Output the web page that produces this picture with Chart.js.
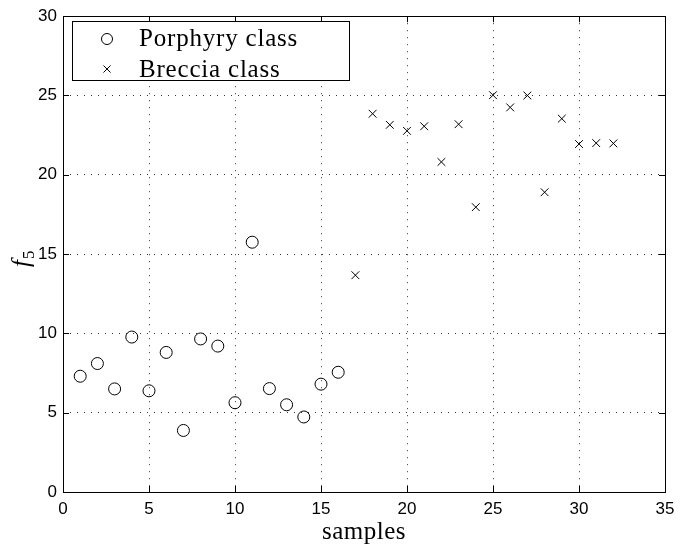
<!DOCTYPE html>
<html>
<head>
<meta charset="utf-8">
<script src="https://cdn.jsdelivr.net/npm/chart.js@4"></script>
<style>
  html, body { margin: 0; padding: 0; background: #fff; }
  #wrap { width: 682px; height: 547px; }
</style>
</head>
<body>
<div id="wrap"><canvas id="chart" width="682" height="547"></canvas></div>
<script>
// samples 1..16 belong to porphyry, 17..32 to breccia
const porphyrySamples = [1, 2, 3, 4, 5, 6, 7, 8, 9, 10, 11, 12, 13, 14, 15, 16];
const porphyryF5 = [7.3, 8.1, 6.5, 9.77, 6.38, 8.8, 3.88, 9.65, 9.2, 5.63, 15.75, 6.52, 5.5, 4.73, 6.8, 7.55];
const brecciaSamples = [17, 18, 19, 20, 21, 22, 23, 24, 25, 26, 27, 28, 29, 30, 31, 32];
const brecciaF5 = [13.67, 23.85, 23.15, 22.77, 23.06, 20.81, 23.19, 17.96, 25.02, 24.25, 25.0, 18.9, 23.54, 21.94, 22.0, 21.98];
const xTicks = [0, 5, 10, 15, 20, 25, 30, 35];
const yTicks = [0, 5, 10, 15, 20, 25, 30];

const seriesNames = ['Porphyry class', 'Breccia class'];

const serif = '"Liberation Serif", "DejaVu Serif", serif';

function toPoints(xs, ys) {
    return xs.map((x, i) => ({ x: x, y: ys[i] }));
}

// MATLAB-style box: inward ticks on all four sides, frame, axis titles and legend inside the plot
const matlabFrame = {
    id: 'matlabFrame',
    afterDraw(chart) {
        const ctx = chart.ctx;
        const area = chart.chartArea;
        const xs = chart.scales.x;
        const ys = chart.scales.y;
        ctx.save();
        ctx.strokeStyle = '#000';
        ctx.lineWidth = 1;

        // ticks
        ctx.beginPath();
        xTicks.forEach(v => {
            const px = Math.round(xs.getPixelForValue(v)) + 0.5;
            ctx.moveTo(px, area.bottom); ctx.lineTo(px, area.bottom - 6);
            ctx.moveTo(px, area.top); ctx.lineTo(px, area.top + 6);
        });
        yTicks.forEach(v => {
            const py = Math.round(ys.getPixelForValue(v)) + 0.5;
            ctx.moveTo(area.left, py); ctx.lineTo(area.left + 6, py);
            ctx.moveTo(area.right, py); ctx.lineTo(area.right - 6, py);
        });
        ctx.stroke();

        // frame
        ctx.strokeRect(Math.round(area.left) + 0.5, Math.round(area.top) + 0.5,
            Math.round(area.right - area.left), Math.round(area.bottom - area.top));

        // x title
        ctx.fillStyle = '#000';
        ctx.font = '25px ' + serif;
        ctx.letterSpacing = '0.5px';
        ctx.textAlign = 'center';
        ctx.textBaseline = 'alphabetic';
        ctx.fillText('samples', (area.left + area.right) / 2, 539);

        // y title f_5
        ctx.letterSpacing = '0px';
        ctx.translate(29, 258);
        ctx.rotate(-Math.PI / 2);
        ctx.font = 'italic 25px ' + serif;
        ctx.textAlign = 'left';
        const fw = ctx.measureText('f').width;
        ctx.fillText('f', -9, 0);
        ctx.font = '17px ' + serif;
        ctx.fillText('5', -9 + fw + 1, 5);
        ctx.setTransform(1, 0, 0, 1, 0, 0);

        // legend box
        const bx = 72.5, by = 21.5, bw = 277, bh = 59;
        ctx.fillStyle = '#fff';
        ctx.fillRect(bx, by, bw, bh);
        ctx.strokeRect(bx, by, bw, bh);
        ctx.beginPath();
        ctx.arc(107, 39, 5.5, 0, Math.PI * 2);
        ctx.stroke();
        ctx.beginPath();
        ctx.moveTo(103.5, 65.5); ctx.lineTo(110.5, 72.5);
        ctx.moveTo(110.5, 65.5); ctx.lineTo(103.5, 72.5);
        ctx.stroke();
        ctx.fillStyle = '#000';
        ctx.font = '25px ' + serif;
        ctx.letterSpacing = '0.8px';
        ctx.textAlign = 'left';
        ctx.textBaseline = 'alphabetic';
        ctx.fillText(seriesNames[0], 139, 46);
        ctx.fillText(seriesNames[1], 139, 77);
        ctx.restore();
    }
};

new Chart(document.getElementById('chart').getContext('2d'), {
    type: 'scatter',
    data: {
        datasets: [
            {
                label: seriesNames[0],
                data: toPoints(porphyrySamples, porphyryF5),
                pointStyle: 'circle',
                pointRadius: 6,
                pointHoverRadius: 6,
                borderColor: '#000',
                backgroundColor: 'rgba(0,0,0,0)',
                borderWidth: 1
            },
            {
                label: seriesNames[1],
                data: toPoints(brecciaSamples, brecciaF5),
                pointStyle: 'crossRot',
                pointRadius: 5.5,
                pointHoverRadius: 5.5,
                borderColor: '#000',
                backgroundColor: '#000',
                borderWidth: 1
            }
        ]
    },
    options: {
        responsive: false,
        animation: false,
        events: [],
        layout: { padding: { top: 12, right: 17, left: 0, bottom: 0 } },
        plugins: {
            legend: { display: false },
            tooltip: { enabled: false }
        },
        scales: {
            x: {
                type: 'linear',
                min: 0,
                max: 35,
                afterFit: s => { s.height = 55; },
                afterBuildTicks: s => { s.ticks = xTicks.map(v => ({ value: v })); },
                border: { display: false, dash: [1, 6] },
                grid: {
                    drawTicks: false,
                    color: c => (c.tick.value === 0 || c.tick.value === 35) ? 'rgba(0,0,0,0)' : '#333',
                    lineWidth: 1
                },
                ticks: {
                    padding: 7,
                    color: '#000',
                    font: { family: '"Liberation Sans", Arial, sans-serif', size: 17 },
                    maxRotation: 0
                }
            },
            y: {
                type: 'linear',
                min: 0,
                max: 30,
                afterFit: s => { s.width = 63; },
                afterBuildTicks: s => { s.ticks = yTicks.map(v => ({ value: v })); },
                border: { display: false, dash: [1, 6] },
                grid: {
                    drawTicks: false,
                    color: c => (c.tick.value === 0 || c.tick.value === 30) ? 'rgba(0,0,0,0)' : '#333',
                    lineWidth: 1
                },
                ticks: {
                    padding: 6,
                    color: '#000',
                    font: { family: '"Liberation Sans", Arial, sans-serif', size: 17 }
                }
            }
        }
    },
    plugins: [matlabFrame]
});
</script>
</body>
</html>
